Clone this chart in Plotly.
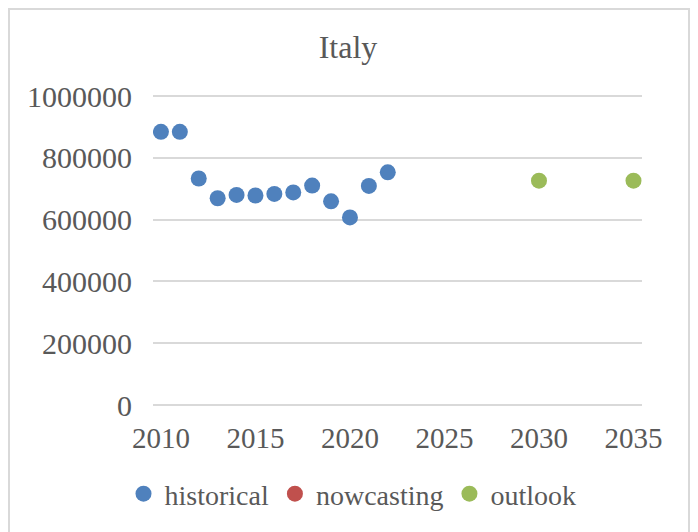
import plotly.graph_objects as go

hist_years = [2010, 2011, 2012, 2013, 2014, 2015, 2016, 2017, 2018, 2019, 2020, 2021, 2022]
hist_values = [884000, 884000, 733000, 669000, 680000, 678000, 683000, 688000, 710000, 659000, 607000, 709000, 753000]
now_years = [None]
now_values = [None]
out_years = [2030, 2035]
out_values = [726000, 726000]
x_ticks = [2010, 2015, 2020, 2025, 2030, 2035]
y_ticks = [0, 200000, 400000, 600000, 800000, 1000000]

FONT = "Liberation Serif"
TXT = "#595959"
OFF = 8  # page body margin

fig = go.Figure()
fig.add_trace(go.Scatter(x=hist_years, y=hist_values, mode="markers", name="historical",
                         marker=dict(color="#4F81BD", size=16)))
fig.add_trace(go.Scatter(x=now_years, y=now_values, mode="markers", name="nowcasting",
                         marker=dict(color="#C0504D", size=16), showlegend=True))
fig.add_trace(go.Scatter(x=out_years, y=out_values, mode="markers", name="outlook",
                         marker=dict(color="#9BBB59", size=16)))

W, H = 690, 524
PADPX = 2  # keep edge gridlines visible
L, T = 153 - OFF, 96 - OFF - PADPX
R = W - (642 - OFF)
B = H - (405 - OFF + PADPX)
pw, ph = W - L - R, H - T - B
ypad = PADPX * 1000000 / 309

def px_x(p):
    return (p - OFF - L) / pw

def px_y(p):
    return (H - B - (p - OFF)) / ph

fig.update_layout(
    width=W, height=H,
    margin=dict(l=L, r=R, t=T, b=B, pad=0),
    paper_bgcolor="white", plot_bgcolor="white",
    font=dict(family=FONT, color=TXT, size=28),
    title=dict(text="Italy", x=(348 - OFF) / W, xref="container", xanchor="center",
               y=1 - (47 - OFF) / H, yref="container", yanchor="middle",
               font=dict(size=32, color=TXT, family=FONT)),
    showlegend=True,
    legend=dict(orientation="h", x=px_x(352), xanchor="center", xref="paper",
                y=px_y(494), yanchor="middle", font=dict(size=28, color=TXT, family=FONT),
                itemsizing="trace", itemwidth=32, traceorder="normal",
                bgcolor="rgba(0,0,0,0)"),
    xaxis=dict(range=[2009.58, 2035.45], tickmode="array", tickvals=x_ticks,
               showgrid=False, zeroline=False, showline=False, ticks="",
               tickfont=dict(size=29, color=TXT, family=FONT), ticklabelstandoff=11),
    yaxis=dict(range=[-ypad, 1000000 + ypad], tickmode="array", tickvals=y_ticks,
               ticktext=[str(v) for v in y_ticks],
               showgrid=True, gridcolor="#D9D9D9", gridwidth=1.5, zeroline=False,
               showline=False, ticks="", tickfont=dict(size=30, color=TXT, family=FONT),
               ticklabelstandoff=20),
    shapes=[dict(type="rect", xref="paper", yref="paper",
                 x0=px_x(9), x1=px_x(689), y0=px_y(9), y1=px_y(540),
                 line=dict(color="#D9D9D9", width=2), fillcolor="rgba(0,0,0,0)",
                 layer="below")],
)

fig.write_html("out.html")
